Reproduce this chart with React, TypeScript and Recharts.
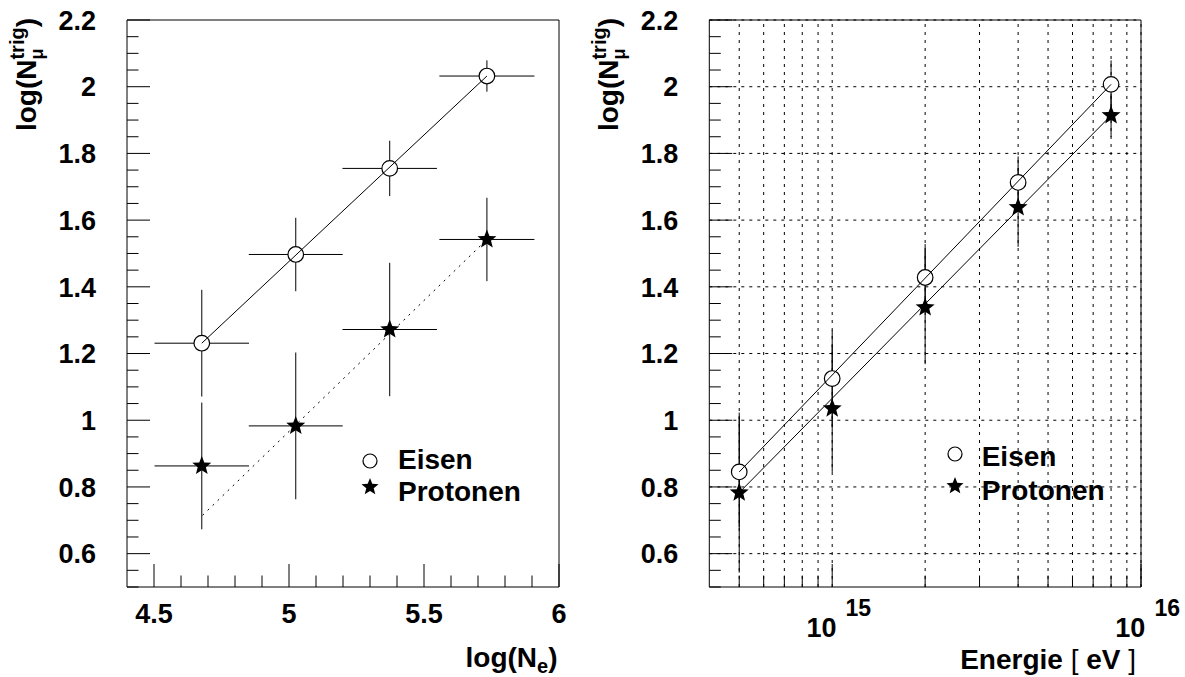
import React from "react";
import {
  ComposedChart,
  Scatter,
  XAxis,
  YAxis,
  ErrorBar,
  ReferenceArea,
  ReferenceLine,
  Label,
  Legend,
} from "recharts";

const FONT = "'Liberation Sans', Arial, Helvetica, sans-serif";

// left panel: log(N_mu^trig) against log(N_e)
const neCenters = [4.677, 5.025, 5.373, 5.733];
const neHalfBin = [0.175, 0.174, 0.175, 0.176];
const eisenNe = [1.231, 1.497, 1.755, 2.032];
const eisenNeErr = [0.16, 0.11, 0.083, 0.047];
const protonNe = [0.863, 0.983, 1.272, 1.542];
const protonNeErr = [0.19, 0.22, 0.2, 0.125];
const eisenNeFitX = [4.677, 5.733];
const eisenNeFitY = [1.231, 2.032];
const protonNeFitX = [4.68, 5.733];
const protonNeFitY = [0.715, 1.542];

// right panel: log(N_mu^trig) against primary energy
const energies = [5e14, 1e15, 2e15, 4e15, 8e15];
const eisenE = [0.845, 1.125, 1.428, 1.713, 2.007];
const eisenEErr = [0.165, 0.145, 0.1, 0.078, 0.072];
const protonE = [0.783, 1.035, 1.338, 1.638, 1.914];
const protonEErr = [0.24, 0.19, 0.17, 0.118, 0.065];
const eisenEFitX = [5e14, 8e15];
const eisenEFitY = [0.845, 2.007];
const protonEFitX = [5e14, 8e15];
const protonEFitY = [0.783, 1.914];

// axes
const yMajor = [0.6, 0.8, 1, 1.2, 1.4, 1.6, 1.8, 2, 2.2];
const yLabels = ["0.6", "0.8", "1", "1.2", "1.4", "1.6", "1.8", "2", "2.2"];
const neMajor = [4.5, 5, 5.5, 6];
const neLabels = ["4.5", "5", "5.5", "6"];
const eMajor = [1e15, 1e16];
const eExponents = ["15", "16"];
const eTicks = [
  5e14, 6e14, 7e14, 8e14, 9e14, 1e15, 2e15, 3e15, 4e15, 5e15, 6e15, 7e15,
  8e15, 9e15, 1e16,
];

const steps = (from: number, to: number, step: number) => {
  const out: number[] = [];
  for (let v = from; v <= to + 1e-9; v += step) out.push(Math.round(v * 1000) / 1000);
  return out;
};
const yTicks = steps(0.5, 2.2, 0.05);
const neTicks = steps(4.5, 6, 0.1);

const rows = (xs: number[], ys: number[], xe: number[] | null, ye: number[]) =>
  xs.map((x, i) => ({ x, y: ys[i], xErr: xe ? xe[i] : 0, yErr: ye[i] }));
const fitRows = (xs: number[], ys: number[]) => xs.map((x, i) => ({ x, y: ys[i] }));

const MAJOR = 23;
const MINOR = 11.5;

const idx = (list: number[], v: number) =>
  list.findIndex((m) => Math.abs(m - v) / Math.max(Math.abs(m), 1e-12) < 1e-6);

const YTick = (props: any) => {
  const { x, y, payload } = props;
  const i = idx(yMajor, payload.value);
  return (
    <g>
      <line x1={x} x2={x + (i >= 0 ? MAJOR : MINOR)} y1={y} y2={y} stroke="#000" />
      {i >= 0 && (
        <text x={x - 31} y={y + 9.7} textAnchor="end" fontSize={27} fontWeight="bold" fontFamily={FONT} fill="#000">
          {yLabels[i]}
        </text>
      )}
    </g>
  );
};

const NeTick = (props: any) => {
  const { x, y, payload } = props;
  const i = idx(neMajor, payload.value);
  return (
    <g>
      <line x1={x} x2={x} y1={y} y2={y - (i >= 0 ? MAJOR : MINOR)} stroke="#000" />
      {i >= 0 && (
        <text x={x} y={y + 36} textAnchor="middle" fontSize={27} fontWeight="bold" fontFamily={FONT} fill="#000">
          {neLabels[i]}
        </text>
      )}
    </g>
  );
};

const ETick = (props: any) => {
  const { x, y, payload } = props;
  const i = idx(eMajor, payload.value);
  return (
    <g>
      <line x1={x} x2={x} y1={y} y2={y - (i >= 0 ? MAJOR : MINOR)} stroke="#000" />
      {i >= 0 && (
        <g fontWeight="bold" fontFamily={FONT} fill="#000">
          <text x={x + 4.4} y={y + 50} textAnchor="end" fontSize={27}>
            10
          </text>
          <text x={x + 13.4} y={y + 28.5} fontSize={23}>
            {eExponents[i]}
          </text>
        </g>
      )}
    </g>
  );
};

const starPoints = (cx: number, cy: number, R: number, r: number) => {
  const pts: string[] = [];
  for (let k = 0; k < 10; k++) {
    const a = -Math.PI / 2 + (k * Math.PI) / 5;
    const rad = k % 2 === 0 ? R : r;
    pts.push(`${cx + rad * Math.cos(a)},${cy + rad * Math.sin(a)}`);
  }
  return pts.join(" ");
};

const OpenCircle = (p: any) => (
  <circle cx={p.cx} cy={p.cy} r={7.8} fill="#fff" stroke="#000" strokeWidth={1.2} />
);
const StarMark = (p: any) => <polygon points={starPoints(p.cx, p.cy, 10, 4.3)} fill="#000" />;
const NoMark = () => <g />;

const YTitle = (p: any) => {
  const vb = p.viewBox;
  const bx = vb.x + vb.width - 91;
  const top = vb.y - 2;
  return (
    <text
      transform={`translate(${bx},${top}) rotate(-90)`}
      textAnchor="end"
      fontSize={28}
      fontWeight="bold"
      fontFamily={FONT}
      fill="#000"
    >
      log(N
      <tspan fontSize={18} dy={7}>
        μ
      </tspan>
      <tspan fontSize={20} dx={-11} dy={-19}>
        trig
      </tspan>
      <tspan fontSize={28} dy={12}>
        )
      </tspan>
    </text>
  );
};

const NeTitle = (p: any) => {
  const vb = p.viewBox;
  return (
    <text x={vb.x + vb.width - 1.5} y={vb.y + 80} textAnchor="end" fontSize={28} fontWeight="bold" fontFamily={FONT} fill="#000">
      log(N
      <tspan fontSize={20} dy={6}>
        e
      </tspan>
      <tspan fontSize={28} dy={-6}>
        )
      </tspan>
    </text>
  );
};

const ETitle = (p: any) => {
  const vb = p.viewBox;
  return (
    <text x={vb.x + vb.width - 5} y={vb.y + 81.5} textAnchor="end" fontSize={28} fontWeight="bold" fontFamily={FONT} fill="#000">
      {"Energie "}
      <tspan fontWeight="normal">[</tspan>
      {" eV "}
      <tspan fontWeight="normal">]</tspan>
    </text>
  );
};

const Key = ({ mx, cy, sy, tx, eb, pb }: any) => (
  <svg width={230} height={90} style={{ overflow: "visible" }}>
    <circle cx={mx} cy={cy} r={7} fill="none" stroke="#000" strokeWidth={1.2} />
    <polygon points={starPoints(mx, sy, 9, 3.9)} fill="#000" />
    <g fontSize={28} fontWeight="bold" fontFamily={FONT} fill="#000">
      <text x={tx} y={eb}>
        Eisen
      </text>
      <text x={tx} y={pb}>
        Protonen
      </text>
    </g>
  </svg>
);

const LeftPanel = () => (
  <ComposedChart width={580} height={677} margin={{ top: 20, right: 21, bottom: 30, left: 27 }}>
    <XAxis
      type="number"
      dataKey="x"
      domain={[4.4, 6]}
      ticks={neTicks}
      interval={0}
      allowDataOverflow
      height={60}
      tickSize={0}
      tickMargin={0}
      axisLine={false}
      tickLine={false}
      tick={NeTick}
    >
      <Label content={NeTitle} />
    </XAxis>
    <YAxis
      type="number"
      dataKey="y"
      domain={[0.5, 2.2]}
      ticks={yTicks}
      interval={0}
      allowDataOverflow
      width={100}
      tickSize={0}
      tickMargin={0}
      axisLine={false}
      tickLine={false}
      tick={YTick}
    >
      <Label content={YTitle} />
    </YAxis>
    <ReferenceArea x1={4.4} x2={6} y1={0.5} y2={2.2} fill="none" stroke="#000" strokeWidth={1} />
    <Scatter
      data={rows(neCenters, eisenNe, neHalfBin, eisenNeErr)}
      fill="#000"
      shape={OpenCircle}
      isAnimationActive={false}
      legendType="none"
    >
      <ErrorBar dataKey="xErr" direction="x" width={0} stroke="#000" strokeWidth={1} />
      <ErrorBar dataKey="yErr" direction="y" width={0} stroke="#000" strokeWidth={1} />
    </Scatter>
    <Scatter
      data={rows(neCenters, protonNe, neHalfBin, protonNeErr)}
      fill="#000"
      shape={StarMark}
      isAnimationActive={false}
      legendType="none"
    >
      <ErrorBar dataKey="xErr" direction="x" width={0} stroke="#000" strokeWidth={1} />
      <ErrorBar dataKey="yErr" direction="y" width={0} stroke="#000" strokeWidth={1} />
    </Scatter>
    <Scatter
      data={fitRows(eisenNeFitX, eisenNeFitY)}
      fill="#000"
      shape={NoMark}
      line={{ stroke: "#000", strokeWidth: 1 }}
      isAnimationActive={false}
      legendType="none"
    />
    <Scatter
      data={fitRows(protonNeFitX, protonNeFitY)}
      fill="#000"
      shape={NoMark}
      line={{ stroke: "#000", strokeWidth: 1, strokeDasharray: "2 5" }}
      isAnimationActive={false}
      legendType="none"
    />
    <Legend
      layout="horizontal"
      verticalAlign="middle"
      align="center"
      wrapperStyle={{ left: 350, top: 440, width: 230, height: 90 }}
      content={() => <Key mx={20} cy={21} sy={47} tx={48} eb={29} pb={61} />}
    />
  </ComposedChart>
);

const RightPanel = () => (
  <ComposedChart width={615} height={677} margin={{ top: 20, right: 44, bottom: 30, left: 39.3 }}>
    <XAxis
      type="number"
      dataKey="x"
      scale="log"
      domain={[4e14, 1e16]}
      ticks={eTicks}
      interval={0}
      allowDataOverflow
      height={60}
      tickSize={0}
      tickMargin={0}
      axisLine={false}
      tickLine={false}
      tick={ETick}
    >
      <Label content={ETitle} />
    </XAxis>
    <YAxis
      type="number"
      dataKey="y"
      domain={[0.5, 2.2]}
      ticks={yTicks}
      interval={0}
      allowDataOverflow
      width={100}
      tickSize={0}
      tickMargin={0}
      axisLine={false}
      tickLine={false}
      tick={YTick}
    >
      <Label content={YTitle} />
    </YAxis>
    {eTicks.map((v) => (
      <ReferenceLine key={`gx${v}`} x={v} stroke="#000" strokeWidth={1} strokeDasharray="3 5" />
    ))}
    {yMajor.map((v) => (
      <ReferenceLine key={`gy${v}`} y={v} stroke="#000" strokeWidth={1} strokeDasharray="3 5" />
    ))}
    <ReferenceArea x1={4e14} x2={1e16} y1={0.5} y2={2.2} fill="none" stroke="#000" strokeWidth={1} />
    <Scatter
      data={rows(energies, eisenE, null, eisenEErr)}
      fill="#000"
      shape={OpenCircle}
      isAnimationActive={false}
      legendType="none"
    >
      <ErrorBar dataKey="yErr" direction="y" width={0} stroke="#000" strokeWidth={1} />
    </Scatter>
    <Scatter
      data={rows(energies, protonE, null, protonEErr)}
      fill="#000"
      shape={StarMark}
      isAnimationActive={false}
      legendType="none"
    >
      <ErrorBar dataKey="yErr" direction="y" width={0} stroke="#000" strokeWidth={1} />
    </Scatter>
    <Scatter
      data={fitRows(eisenEFitX, eisenEFitY)}
      fill="#000"
      shape={NoMark}
      line={{ stroke: "#000", strokeWidth: 1 }}
      isAnimationActive={false}
      legendType="none"
    />
    <Scatter
      data={fitRows(protonEFitX, protonEFitY)}
      fill="#000"
      shape={NoMark}
      line={{ stroke: "#000", strokeWidth: 1 }}
      isAnimationActive={false}
      legendType="none"
    />
    <Legend
      layout="horizontal"
      verticalAlign="middle"
      align="center"
      wrapperStyle={{ left: 365, top: 430, width: 230, height: 90 }}
      content={() => <Key mx={20} cy={24} sy={56} tx={46.7} eb={36} pb={70} />}
    />
  </ComposedChart>
);

export default function App() {
  return (
    <div style={{ position: "absolute", left: 0, top: 0, width: 1185, height: 677, background: "#fff", overflow: "hidden" }}>
      <div style={{ position: "absolute", left: 0, top: 0 }}>
        <LeftPanel />
      </div>
      <div style={{ position: "absolute", left: 570, top: 0 }}>
        <RightPanel />
      </div>
    </div>
  );
}
